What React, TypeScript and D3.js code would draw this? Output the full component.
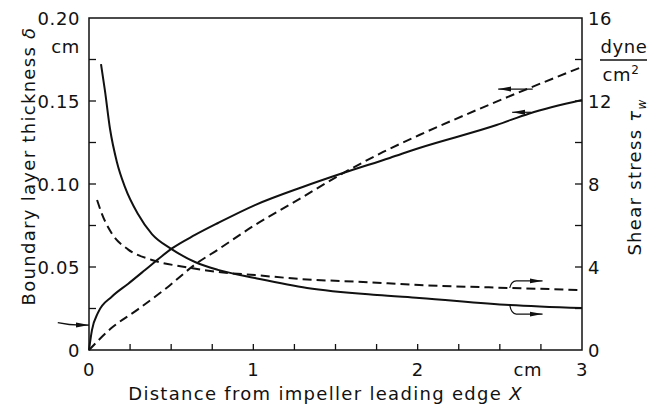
import React, { useEffect, useRef } from "react";
import * as d3 from "d3";

// X in cm, delta in cm (left axis), tau in dyne/cm^2 (right axis)
const xLabels = [
  { v: 0, t: "0" },
  { v: 1, t: "1" },
  { v: 2, t: "2" },
  { v: 2.67, t: "cm" },
  { v: 3, t: "3" },
];
const leftLabels = [
  { v: 0, t: "0" },
  { v: 0.05, t: "0.05" },
  { v: 0.1, t: "0.10" },
  { v: 0.15, t: "0.15" },
  { v: 0.2, t: "0.20" },
];
const rightLabels = [
  { v: 0, t: "0" },
  { v: 4, t: "4" },
  { v: 8, t: "8" },
  { v: 12, t: "12" },
  { v: 16, t: "16" },
];

// boundary layer thickness, solid
const deltaSolid: [number, number][] = [
  [0, 0], [0.018, 0.012], [0.055, 0.0225], [0.14, 0.0322], [0.237, 0.0398],
  [0.341, 0.0482], [0.4, 0.053], [0.505, 0.0612], [0.645, 0.0693],
  [0.785, 0.0765], [1.01, 0.0873], [1.3, 0.0982], [1.546, 0.1066],
  [1.83, 0.1157], [2.01, 0.1217], [2.48, 0.1355], [2.68, 0.1425], [3.0, 0.1506],
];
// boundary layer thickness, dashed
const deltaDashed: [number, number][] = [
  [0, 0], [0.14, 0.0135], [0.298, 0.0245], [0.48, 0.038], [0.645, 0.0515],
  [0.785, 0.0605], [1.01, 0.0753], [1.24, 0.0886], [1.546, 0.1065],
  [1.79, 0.1193], [2.01, 0.1295], [2.36, 0.1446], [2.68, 0.1578], [3.0, 0.1705],
];
// shear stress, solid
const tauSolid: [number, number][] = [
  [0.073, 13.78], [0.097, 12.5], [0.128, 10.65], [0.17, 9.05], [0.219, 7.85],
  [0.298, 6.55], [0.383, 5.58], [0.505, 4.85], [0.645, 4.24], [0.785, 3.86],
  [1.01, 3.47], [1.327, 2.99], [1.753, 2.65], [2.01, 2.51], [2.56, 2.17], [3.0, 2.02],
];
// shear stress, dashed
const tauDashed: [number, number][] = [
  [0.049, 7.23], [0.079, 6.55], [0.14, 5.6], [0.237, 4.85], [0.383, 4.34],
  [0.584, 4.0], [0.785, 3.76], [1.01, 3.61], [1.327, 3.4], [1.668, 3.28],
  [2.01, 3.13], [2.56, 2.99], [3.0, 2.89],
];

const W = 659;
const H = 410;
const margin = { top: 18, right: 77, bottom: 60, left: 89 };
const font = "'DejaVu Sans', sans-serif";

export default function App() {
  const ref = useRef<SVGSVGElement>(null);

  useEffect(() => {
    const svg = d3.select(ref.current);
    svg.selectAll("*").remove();

    const x = d3.scaleLinear().domain([0, 3]).range([margin.left, W - margin.right]);
    const yL = d3.scaleLinear().domain([0, 0.2]).range([H - margin.bottom, margin.top]);
    const yR = d3.scaleLinear().domain([0, 16]).range([H - margin.bottom, margin.top]);

    svg.append("defs").append("marker")
      .attr("id", "ah")
      .attr("markerUnits", "userSpaceOnUse")
      .attr("markerWidth", 13).attr("markerHeight", 6)
      .attr("refX", 13).attr("refY", 3)
      .attr("orient", "auto")
      .append("path").attr("d", "M0,0.5 L13,3 L0,5.5 Z").attr("fill", "#111");

    // frame
    svg.append("rect")
      .attr("x", x(0)).attr("y", yL(0.2))
      .attr("width", x(3) - x(0)).attr("height", yL(0) - yL(0.2))
      .attr("fill", "none").attr("stroke", "#111").attr("stroke-width", 1.5);

    // ticks (inward)
    const g = svg.append("g").attr("stroke", "#111").attr("stroke-width", 1.3);
    g.selectAll(".xt").data(d3.range(0.25, 3, 0.25)).join("line")
      .attr("x1", d => x(d)).attr("x2", d => x(d))
      .attr("y1", yL(0)).attr("y2", yL(0) - 6);
    g.selectAll(".lt").data(d3.range(0.025, 0.2, 0.025)).join("line")
      .attr("x1", x(0)).attr("x2", x(0) + 7)
      .attr("y1", d => yL(d)).attr("y2", d => yL(d));
    g.selectAll(".rt").data(d3.range(2, 16, 2)).join("line")
      .attr("x1", x(3)).attr("x2", x(3) - 7)
      .attr("y1", d => yR(d)).attr("y2", d => yR(d));

    const txt = svg.append("g")
      .attr("font-family", font).attr("font-size", 18).attr("fill", "#111")
      .attr("letter-spacing", 0.6);

    txt.selectAll(".xl").data(xLabels).join("text")
      .attr("x", d => x(d.v)).attr("y", yL(0) + 26)
      .attr("text-anchor", "middle").text(d => d.t);
    txt.selectAll(".ll").data(leftLabels).join("text")
      .attr("x", x(0) - 9).attr("y", d => yL(d.v) + 7)
      .attr("text-anchor", "end").text(d => d.t);
    txt.append("text").attr("x", x(0) - 9).attr("y", yL(0.2) + 35)
      .attr("text-anchor", "end").text("cm");
    txt.selectAll(".rl").data(rightLabels).join("text")
      .attr("x", x(3) + 6).attr("y", d => yR(d.v) + 7)
      .attr("text-anchor", "start").text(d => d.t);

    // unit fraction on the right
    txt.append("text").attr("x", 624).attr("y", 53).attr("text-anchor", "middle").text("dyne");
    svg.append("line").attr("x1", 600).attr("x2", 647).attr("y1", 60).attr("y2", 60)
      .attr("stroke", "#111").attr("stroke-width", 1.3);
    const cm2 = txt.append("text").attr("x", 621).attr("y", 81).attr("text-anchor", "middle");
    cm2.append("tspan").text("cm");
    cm2.append("tspan").attr("dy", -7).attr("font-size", 12).text("2");

    // axis titles
    const lt = txt.append("text")
      .attr("letter-spacing", 1.3)
      .attr("transform", `translate(35, 166) rotate(-90)`)
      .attr("text-anchor", "middle");
    lt.append("tspan").text("Boundary layer thickness ");
    lt.append("tspan").attr("font-style", "italic").text("δ");
    const rt = txt.append("text")
      .attr("letter-spacing", 1.3)
      .attr("transform", `translate(641, 177) rotate(-90)`)
      .attr("text-anchor", "middle");
    rt.append("tspan").text("Shear stress ");
    rt.append("tspan").attr("font-style", "italic").text("τ");
    rt.append("tspan").attr("dy", 5).attr("font-size", 12).attr("font-style", "italic").text("w");
    const xt = txt.append("text")
      .attr("letter-spacing", 1.3)
      .attr("x", (x(0) + x(3)) / 2 - 10).attr("y", H - 10)
      .attr("text-anchor", "middle");
    xt.append("tspan").text("Distance from impeller leading edge ");
    xt.append("tspan").attr("font-style", "italic").text("X");

    // curves
    const lineL = d3.line<[number, number]>().x(d => x(d[0])).y(d => yL(d[1])).curve(d3.curveMonotoneX);
    const lineR = d3.line<[number, number]>().x(d => x(d[0])).y(d => yR(d[1])).curve(d3.curveMonotoneX);
    const curves = [
      { d: lineL(deltaSolid), dash: null },
      { d: lineL(deltaDashed), dash: "9,5" },
      { d: lineR(tauSolid), dash: null },
      { d: lineR(tauDashed), dash: "9,5" },
    ];
    svg.append("g").selectAll("path").data(curves).join("path")
      .attr("d", d => d.d)
      .attr("fill", "none").attr("stroke", "#111").attr("stroke-width", 2)
      .attr("stroke-dasharray", d => d.dash);

    // arrows pointing to axes
    const ann = svg.append("g").attr("fill", "none").attr("stroke", "#111").attr("stroke-width", 1.2);
    ann.append("path")
      .attr("d", `M${x(2.7)},${yL(0.1572)} L${x(2.49)},${yL(0.1572)}`)
      .attr("marker-end", "url(#ah)");
    ann.append("path")
      .attr("d", `M${x(2.69)},${yL(0.1432)} L${x(2.575)},${yL(0.1432)}`)
      .attr("marker-end", "url(#ah)");
    ann.append("path")
      .attr("d", `M${x(2.56)},${yR(2.99)} Q${x(2.57)},${yR(3.33)} ${x(2.6)},${yR(3.33)} L${x(2.76)},${yR(3.33)}`)
      .attr("marker-end", "url(#ah)");
    ann.append("path")
      .attr("d", `M${x(2.56)},${yR(2.17)} Q${x(2.57)},${yR(1.73)} ${x(2.6)},${yR(1.73)} L${x(2.76)},${yR(1.73)}`)
      .attr("marker-end", "url(#ah)");
    ann.append("path")
      .attr("d", `M${x(-0.19)},${yL(0.0165)} Q${x(-0.12)},${yL(0.015)} ${x(-0.05)},${yL(0.015)} L${x(0)},${yL(0.015)}`)
      .attr("marker-end", "url(#ah)");
  }, []);

  return (
    <div style={{ position: "fixed", left: 0, top: 0, background: "#fff" }}>
      <svg ref={ref} width={W} height={H} />
    </div>
  );
}
